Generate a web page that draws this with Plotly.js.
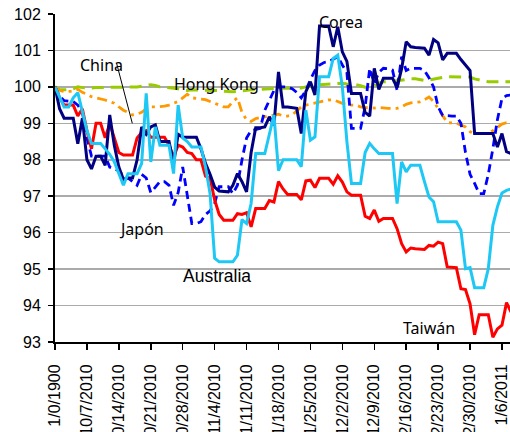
<!DOCTYPE html>
<html>
<head>
<meta charset="utf-8">
<script src="https://cdn.plot.ly/plotly-3.0.1.min.js"></script>
<style>html,body{margin:0;padding:0;background:#fff;}#chart{width:510px;height:432px;}</style>
</head>
<body>
<div id="chart"></div>
<script>
// Tick labels (one every 7 daily points)
const tickLabels = ["1/0/1900","10/7/2010","10/14/2010","10/21/2010","10/28/2010","11/4/2010","11/11/2010","11/18/2010","11/25/2010","12/2/2010","12/9/2010","12/16/2010","12/23/2010","12/30/2010","1/6/2011"];

const taiwan = [100,99.7,99.5,99.5,99.5,99.2,99.4,98.8,98.3,99.0,
 99.0,98.6,99.0,98.6,98.2,98.13,98.13,98.13,98.6,98.75,
 98.8,98.62,98.62,98.62,98.62,98.4,98.08,98.4,98.35,98.2,
 98.17,98.0,98.0,97.55,97.5,96.9,96.5,96.34,96.34,96.34,
 96.52,96.5,96.55,96.16,96.66,96.66,96.66,96.88,96.84,97.4,
 97.2,97.05,97.05,97.05,96.9,97.42,97.44,97.24,97.49,97.49,
 97.49,97.33,97.56,97.39,97.12,97.03,97.03,97.03,96.45,96.39,
 96.62,96.31,96.39,96.39,96.39,96.11,95.7,95.47,95.58,95.56,
 95.55,95.54,95.65,95.63,95.74,95.7,95.06,95.04,95.04,94.46,
 94.44,94.05,93.2,93.75,93.75,93.75,93.13,93.36,93.46,94.08,
 93.82];

const australia = [100,99.7,99.45,99.45,99.7,99.84,99.3,98.8,98.45,98.45,
 98.45,98.3,98.15,97.95,97.6,97.3,97.62,97.62,97.62,97.9,
 99.82,97.94,98.9,98.4,98.4,98.4,97.62,99.5,98.6,98.5,
 98.35,98.35,98.35,97.81,97.07,95.3,95.2,95.2,95.2,95.2,
 95.38,96.36,96.25,96.8,98.17,98.17,98.17,98.7,99.23,97.7,
 98.0,98.0,98.0,98.0,97.81,99.36,98.54,98.63,100.28,100.28,
 100.28,100.78,100.87,100.0,98.5,97.35,97.35,97.35,98.2,98.45,
 98.3,98.17,98.17,98.17,98.17,96.8,97.94,97.67,97.85,97.85,
 97.85,97.4,96.98,96.85,96.3,96.3,96.3,96.3,96.3,96.07,
 95.01,95.04,94.49,94.49,94.49,95.01,96.2,96.71,97.09,97.16,
 97.2];

const corea = [100,99.4,99.14,99.14,99.14,98.44,99.14,98.0,97.75,98.1,
 98.1,97.85,99.23,98.4,97.8,97.46,97.5,97.5,98.0,98.9,
 98.7,98.9,98.96,98.5,98.5,98.5,97.9,98.7,98.62,98.62,
 98.62,98.62,98.3,97.9,97.6,97.25,97.14,97.12,97.12,97.3,
 97.62,97.4,97.12,98.2,98.88,98.88,98.9,99.18,98.95,100.41,
 99.45,99.45,99.43,99.41,98.72,99.87,100.14,99.78,101.67,101.67,
 101.67,101.1,101.65,100.96,100.7,99.82,99.82,99.82,99.3,99.2,
 100.51,99.93,100.24,100.24,100.24,99.98,100.5,101.24,101.1,101.08,
 101.08,101.06,100.87,101.3,101.21,100.74,100.92,100.92,100.92,100.75,
 100.6,100.45,98.72,98.72,98.72,98.72,98.72,98.35,98.72,98.22,
 98.17];

const japon = [100,99.75,99.62,99.62,99.6,99.5,99.3,98.6,98.1,98.1,
 98.1,98.1,97.8,97.75,97.7,97.55,97.5,97.4,97.3,97.6,
 97.5,97.1,97.26,97.4,97.4,97.3,96.75,97.1,97.8,97.0,
 96.25,96.25,96.3,96.5,96.6,96.8,97.26,97.26,97.26,97.07,
 97.3,98.0,98.6,98.8,98.82,98.86,99.36,99.65,99.9,100.0,
 100.0,100.0,99.95,99.85,99.7,99.9,100.2,100.45,100.6,100.67,
 100.69,100.75,100.83,100.6,100.4,98.86,98.86,98.86,99.45,100.51,
 100.1,100.4,100.51,100.5,100.46,99.91,100.83,100.45,100.51,100.51,
 100.51,100.45,100.25,100.0,99.45,99.22,99.2,99.2,99.2,99.0,
 98.2,97.6,97.35,97.07,97.07,97.6,98.3,99.1,99.68,99.76,
 99.78];

const hongkong = [100,99.93,99.92,99.92,99.95,100.0,99.98,99.97,99.97,99.98,
 99.98,99.98,99.98,99.98,99.98,99.99,99.99,100.0,100.0,100.02,
 100.05,100.06,100.04,100.0,99.99,99.98,99.96,99.95,99.92,99.9,
 99.92,99.92,99.9,99.9,99.9,99.9,99.9,99.88,99.87,99.87,
 99.88,99.9,99.91,99.92,99.93,99.94,99.95,99.96,99.96,99.96,
 99.96,99.96,99.96,99.96,99.97,100.0,100.03,100.05,100.06,100.07,
 100.08,100.09,100.1,100.1,100.08,100.08,100.06,100.03,99.99,99.99,
 100.02,100.1,100.14,100.14,100.16,100.17,100.19,100.2,100.22,100.22,
 100.2,100.18,100.19,100.22,100.24,100.26,100.28,100.28,100.28,100.28,
 100.28,100.27,100.22,100.19,100.16,100.14,100.14,100.14,100.14,100.14,
 100.14];

const china = [100,99.9,99.87,99.87,99.88,99.93,99.85,99.8,99.73,99.7,
 99.68,99.64,99.6,99.55,99.45,99.36,99.3,99.23,99.25,99.3,
 99.4,99.45,99.45,99.45,99.47,99.5,99.55,99.6,99.7,99.8,
 99.7,99.68,99.68,99.65,99.6,99.55,99.5,99.45,99.45,99.6,
 99.7,99.3,99.1,99.05,99.13,99.15,99.18,99.2,99.23,99.25,
 99.2,99.2,99.23,99.35,99.45,99.5,99.53,99.55,99.58,99.6,
 99.64,99.65,99.6,99.55,99.53,99.5,99.5,99.45,99.43,99.42,
 99.42,99.44,99.42,99.41,99.41,99.41,99.45,99.52,99.56,99.58,
 99.59,99.65,99.72,99.6,99.4,99.23,99.02,99.01,99.01,98.95,
 98.9,98.77,98.72,98.72,98.72,98.72,98.8,98.9,98.98,99.02,
 99.04];

const idx = taiwan.map((_, i) => i);
const tickVals = tickLabels.map((_, i) => i * 7);

function tr(name, y, color, dash, width) {
  return {type: 'scatter', mode: 'lines', name: name, x: idx, y: y,
    line: {color: color, width: width || 2.8, dash: dash || 'solid'},
    hoverinfo: 'skip'};
}

const data = [
  tr('Hong Kong', hongkong, '#99cc00', '12px,7px', 3),
  tr('China', china, '#ff9900', '10px,5px,3px,5px', 2.8),
  tr('Japón', japon, '#0000ff', '8px,5px', 2.8),
  tr('Taiwán', taiwan, '#ff0000', 'solid', 3),
  tr('Corea', corea, '#000080', 'solid', 3),
  tr('Australia', australia, '#1ec8f5', 'solid', 3)
];

const noto = {family: 'Noto Sans', size: 16, color: '#000'};
const layout = {
  width: 510, height: 432,
  margin: {l: 55, r: 0, t: 14, b: 90},
  paper_bgcolor: '#fff', plot_bgcolor: '#fff',
  showlegend: false,
  font: {family: 'Liberation Sans, Arial, sans-serif', color: '#000'},
  xaxis: {
    range: [0, 99.76], showgrid: false, zeroline: false,
    showline: true, linecolor: '#000', linewidth: 2,
    tickmode: 'array', tickvals: tickVals, ticktext: tickLabels,
    tickangle: -90, ticks: 'outside', ticklen: 6, tickwidth: 1.5, tickcolor: '#000',
    ticklabelstandoff: 8, ticklabeloverflow: 'allow',
    tickfont: {family: 'Liberation Sans, Arial', size: 16, color: '#000'},
    automargin: false, fixedrange: true
  },
  yaxis: {
    range: [93, 102], dtick: 1, tick0: 93,
    showgrid: true, gridcolor: '#ababab', gridwidth: 1.5, zeroline: false,
    showline: true, linecolor: '#000', linewidth: 2,
    ticks: 'outside', ticklen: 5, tickwidth: 1.5, tickcolor: '#000',
    ticklabelstandoff: 4,
    tickfont: {family: 'Liberation Sans, Arial', size: 16, color: '#000'},
    automargin: false, fixedrange: true
  },
  shapes: [
    {type: 'line', xref: 'x', yref: 'y', x0: 13.5, y0: 100.65, x1: 16.95, y1: 99.0,
     line: {color: '#000', width: 1}}
  ],
  annotations: [
    {text: 'China', x: 10.3, y: 100.61, xref: 'x', yref: 'y', showarrow: false, font: noto},
    {text: 'Hong Kong', x: 35.3, y: 100.08, xref: 'x', yref: 'y', showarrow: false, font: noto},
    {text: 'Corea', x: 62.7, y: 101.77, xref: 'x', yref: 'y', showarrow: false, font: noto},
    {text: 'Japón', x: 18.86, y: 96.1, xref: 'x', yref: 'y', showarrow: false, font: noto},
    {text: 'Australia', x: 35.6, y: 94.8, xref: 'x', yref: 'y', showarrow: false,
     font: {family: 'Liberation Sans, Arial', size: 17.5, color: '#000'}},
    {text: 'Taiwán', x: 82.0, y: 93.39, xref: 'x', yref: 'y', showarrow: false, font: noto}
  ]
};

Plotly.newPlot('chart', data, layout, {staticPlot: true, displayModeBar: false});
</script>
</body>
</html>
